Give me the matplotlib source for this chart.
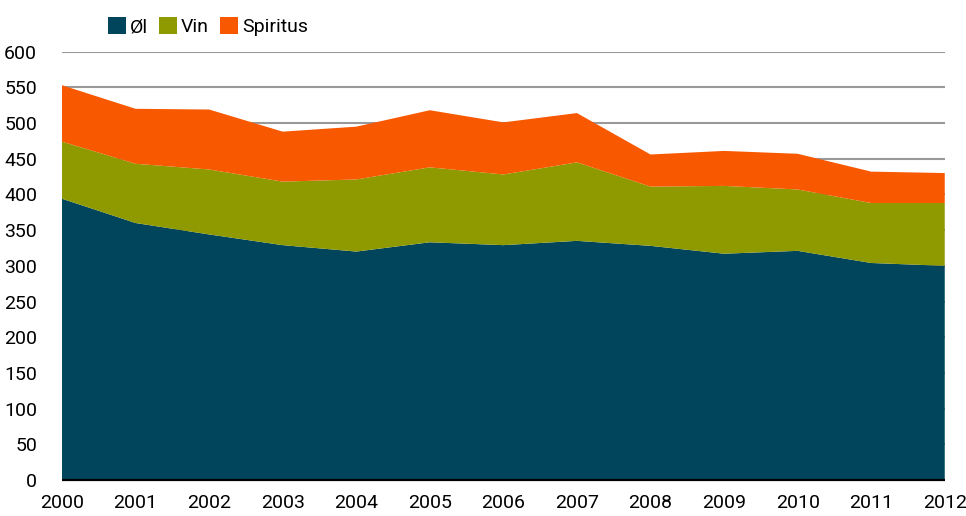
import matplotlib
matplotlib.use("Agg")
import matplotlib.pyplot as plt
from matplotlib.patches import Patch

years = [2000, 2001, 2002, 2003, 2004, 2005, 2006, 2007, 2008, 2009, 2010, 2011, 2012]
ol = [394, 360, 344, 329, 320, 333, 329, 335, 328, 317, 321, 304, 300]
vin = [80, 83, 91, 89, 101, 105, 99, 110, 83, 95, 86, 84, 88]
spiritus = [79, 77, 84, 70, 74, 80, 73, 69, 45, 49, 50, 44, 42]
labels = ["Øl", "Vin", "Spiritus"]
colors = ["#00455B", "#8F9900", "#F75800"]
yticks = [0, 50, 100, 150, 200, 250, 300, 350, 400, 450, 500, 550, 600]

plt.rcParams['font.family'] = ['Roboto', 'DejaVu Sans']

fig = plt.figure(figsize=(9.66, 5.16), dpi=100)
ax = fig.add_axes([0.0642, 0.0698, 0.9138, 0.83])

ax.stackplot(years, ol, vin, spiritus, colors=colors, linewidth=0, zorder=3)
ax.set_xlim(2000, 2012)
ax.set_ylim(0, 600)
ax.set_yticks(yticks)
ax.set_xticks(years)
ax.grid(axis='y', color='#999999', linewidth=1.5, zorder=1)
ax.set_axisbelow(True)
for s in ['left', 'right', 'top']:
    ax.spines[s].set_visible(False)
ax.spines['bottom'].set_color('black')
ax.spines['bottom'].set_linewidth(1.6)
ax.spines['bottom'].set_capstyle('butt')
ax.spines['bottom'].set_zorder(5)
ax.tick_params(axis='both', length=0, labelsize=14, colors='black')
ax.tick_params(axis='y', pad=18)
ax.tick_params(axis='x', pad=10)

handles = [Patch(facecolor=c, edgecolor='none') for c in colors]
fig.legend(handles, labels, loc='center left', bbox_to_anchor=(0.112, 0.948),
           ncol=3, frameon=False, fontsize=14, handlelength=0.9, handleheight=0.9,
           handletextpad=0.2, columnspacing=0.6, borderaxespad=0, borderpad=0)

fig.savefig("out.png", dpi=100)
